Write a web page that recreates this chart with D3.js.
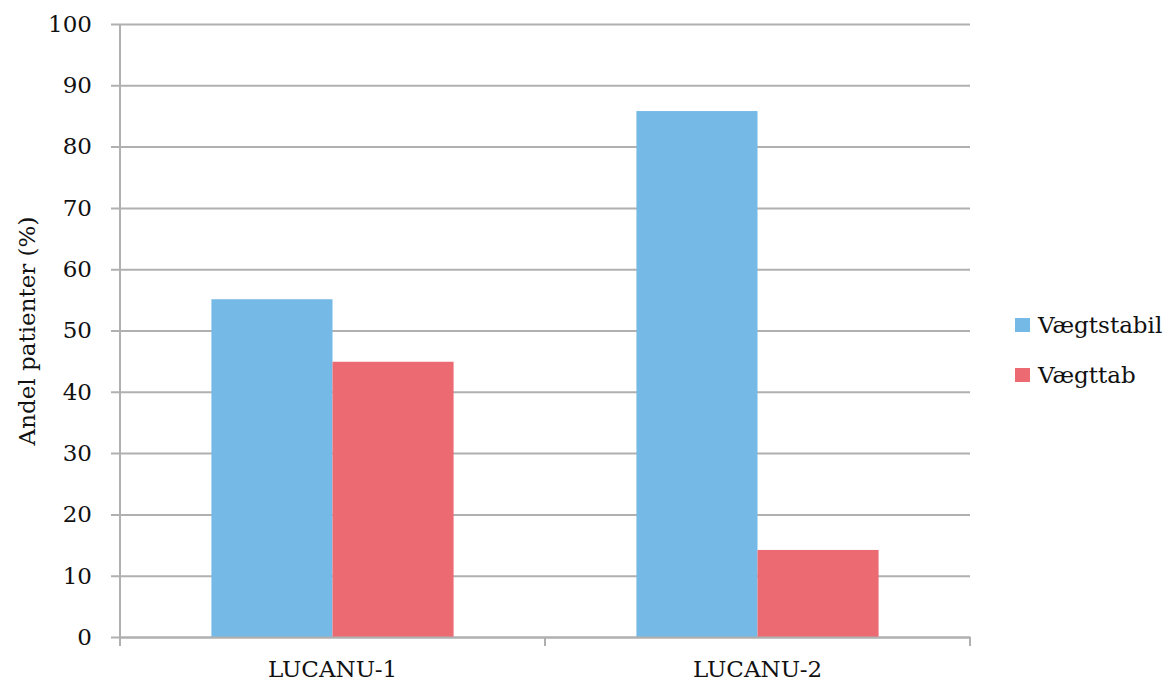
<!DOCTYPE html>
<html>
<head>
<meta charset="utf-8">
<script src="https://cdn.jsdelivr.net/npm/d3@7"></script>
<style>
  html, body { margin: 0; padding: 0; background: #fff; }
  svg { display: block; }
  svg text { font-family: "DejaVu Serif", "Liberation Serif", serif; }
</style>
</head>
<body>
<svg id="chart" width="1168" height="683"></svg>
<script>
// Share of patients by study and weight status
const categories = ["LUCANU-1", "LUCANU-2"];
const seriesNames = ["Vægtstabil", "Vægttab"];
const vaegtstabil = [55.1, 85.8];
const vaegttab = [44.9, 14.2];
const yTicks = [0, 10, 20, 30, 40, 50, 60, 70, 80, 90, 100];
const colors = ["#75b9e6", "#ec6b73"];

const seriesValues = [vaegtstabil, vaegttab];
const rows = categories.map((c, i) => ({
  category: c,
  values: seriesNames.map((s, j) => ({ series: s, value: seriesValues[j][i] }))
}));

const svg = d3.select("#chart");
const margin = { left: 120, right: 198, top: 24, bottom: 46 };
const W = 1168, H = 683;
const plotW = W - margin.left - margin.right;
const plotH = H - margin.top - margin.bottom;
const fontSize = 23;

const y = d3.scaleLinear().domain([0, 100]).range([margin.top + plotH, margin.top]);
const x0 = d3.scaleBand().domain(categories).range([margin.left, margin.left + plotW]).padding(0);
const x1 = d3.scaleBand().domain(seriesNames).range([0, x0.bandwidth()]).paddingInner(0).paddingOuter(0.755);
const color = d3.scaleOrdinal().domain(seriesNames).range(colors);

const gridColor = "#b0b0b0";
const textColor = "#111";

// Horizontal gridlines with short ticks to the left of the axis
const yAxis = d3.axisLeft(y)
  .tickValues(yTicks)
  .tickSize(-(plotW))
  .tickSizeOuter(0)
  .tickPadding(28)
  .tickFormat(d3.format("d"));

const gy = svg.append("g")
  .attr("transform", `translate(${margin.left},0)`)
  .call(yAxis)
  .attr("font-family", null);
gy.select(".domain").remove();
gy.selectAll(".tick line")
  .attr("x1", -9)
  .attr("stroke", gridColor)
  .attr("stroke-width", 2);
gy.selectAll(".tick text")
  .attr("font-size", fontSize)
  .attr("fill", textColor);

// Bars
const groups = svg.append("g").selectAll("g")
  .data(rows)
  .join("g")
  .attr("transform", d => `translate(${x0(d.category)},0)`);

groups.selectAll("rect")
  .data(d => d.values)
  .join("rect")
  .attr("x", d => x1(d.series))
  .attr("width", x1.bandwidth())
  .attr("y", d => y(d.value))
  .attr("height", d => y(0) - y(d.value))
  .attr("fill", d => color(d.series));

// Vertical axis line
svg.append("line")
  .attr("x1", margin.left).attr("x2", margin.left)
  .attr("y1", y(100)).attr("y2", y(0) + 9)
  .attr("stroke", gridColor).attr("stroke-width", 2);

// Category axis
const xAxis = d3.axisBottom(x0).tickSize(0).tickPadding(24);
const gx = svg.append("g")
  .attr("transform", `translate(0,${y(0)})`)
  .call(xAxis)
  .attr("font-family", null);
gx.select(".domain").attr("stroke", gridColor).attr("stroke-width", 2);
gx.selectAll(".tick text")
  .attr("font-size", fontSize)
  .attr("fill", textColor);

// Category boundary ticks
const boundaries = [margin.left, ...categories.map(c => x0(c) + x0.bandwidth())];
svg.append("g").selectAll("line")
  .data(boundaries)
  .join("line")
  .attr("x1", d => d).attr("x2", d => d)
  .attr("y1", y(0)).attr("y2", y(0) + 9)
  .attr("stroke", gridColor).attr("stroke-width", 2);

// Y axis title
svg.append("text")
  .attr("transform", `translate(27,331) rotate(-90)`)
  .attr("text-anchor", "middle")
  .attr("dy", "0.35em")
  .attr("font-size", fontSize)
  .attr("fill", textColor)
  .text("Andel patienter (%)");

// Legend
const legend = svg.append("g").attr("transform", "translate(1015,318)");
const li = legend.selectAll("g")
  .data(seriesNames)
  .join("g")
  .attr("transform", (d, i) => `translate(0,${i * 50})`);
li.append("rect")
  .attr("width", 15).attr("height", 14)
  .attr("fill", d => color(d));
li.append("text")
  .attr("x", 23).attr("y", 7)
  .attr("dy", "0.35em")
  .attr("font-size", fontSize)
  .attr("fill", textColor)
  .text(d => d);
</script>
</body>
</html>
